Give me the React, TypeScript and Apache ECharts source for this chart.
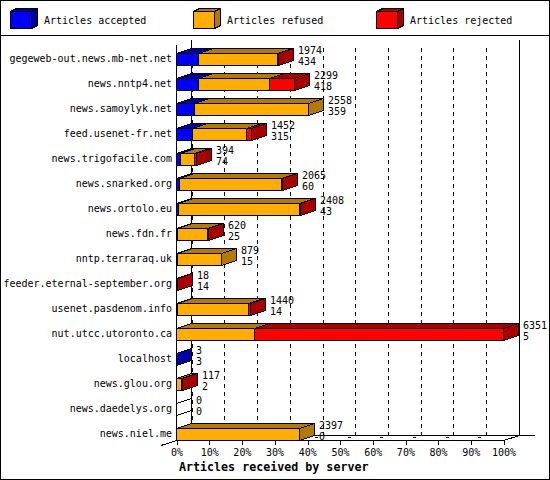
import React, { useEffect, useRef } from "react";
import * as echarts from "echarts";

const servers = [
  "gegeweb-out.news.mb-net.net", "news.nntp4.net", "news.samoylyk.net", "feed.usenet-fr.net",
  "news.trigofacile.com", "news.snarked.org", "news.ortolo.eu", "news.fdn.fr",
  "nntp.terraraq.uk", "feeder.eternal-september.org", "usenet.pasdenom.info", "nut.utcc.utoronto.ca",
  "localhost", "news.glou.org", "news.daedelys.org", "news.niel.me",
];
const totals = [1974, 2299, 2558, 1452, 394, 2065, 2408, 620, 879, 18, 1440, 6351, 3, 117, 0, 2397];
const accepted = [434, 418, 359, 315, 74, 60, 43, 25, 15, 14, 14, 5, 3, 2, 0, 0];
const refused = [1525, 1380, 2199, 1050, 270, 1985, 2350, 580, 864, 0, 1391, 1515, 0, 90, 0, 2397];
const rejected = [15, 501, 0, 87, 50, 20, 15, 15, 0, 4, 35, 4831, 0, 25, 0, 0];
const axisTicks = [10, 20, 30, 40, 50, 60, 70, 80, 90];
const legendNames = ["Articles accepted", "Articles refused", "Articles rejected"];
const faceColors = ["#0000ff", "#ffae00", "#ff0000"];
const shadeColors = ["#0000aa", "#b27a00", "#aa0000"];
const xAxisTitle = "Articles received by server";

const FONT = '"DejaVu Sans Mono", monospace';
const DX = 15;
const DY = -5;
const line = (x1: number, y1: number, x2: number, y2: number, extra: any = {}) => ({
  type: "line",
  shape: { x1, y1, x2, y2 },
  style: { stroke: "#000", lineWidth: 1, ...extra },
});
const poly = (points: number[][], fill: string) => ({
  type: "polygon",
  shape: { points },
  style: { fill, stroke: "#000", lineWidth: 1 },
});

const renderBar = (params: any, api: any) => {
  const i = params.dataIndex;
  const maxTotal = Math.max(...totals);
  const px = (v: number) => Math.round(api.coord([(v / maxTotal) * 100, i])[0]) - 0.5;
  const c = api.coord([0, i])[1];
  const top = c + 1;
  const bottom = c + 13;
  const segs = [accepted[i], refused[i], rejected[i]];
  const children: any[] = [];
  let sum = 0;
  if (totals[i] === 0) {
    const x = px(0);
    children.push(poly([[x, top], [x + DX, top + DY], [x + DX, bottom + DY], [x, bottom]], "none"));
  }
  segs.forEach((v, k) => {
    if (v <= 0) return;
    const a = px(sum);
    sum += v;
    const b = px(sum);
    children.push(poly([[a, top], [a + DX, top + DY], [b + DX, top + DY], [b, top]], shadeColors[k]));
    children.push(poly([[b, top], [b + DX, top + DY], [b + DX, bottom + DY], [b, bottom]], shadeColors[k]));
    children.push(poly([[a, top], [b, top], [b, bottom], [a, bottom]], faceColors[k]));
  });
  const tx = px(totals[i]) + DX + 4.5;
  [totals[i], accepted[i]].forEach((v, k) => {
    children.push({
      type: "text",
      style: {
        x: tx,
        y: c - 2.5 + k * 11,
        text: String(v),
        fill: "#000",
        font: `10px ${FONT}`,
        textAlign: "left",
        textVerticalAlign: "middle",
      },
    });
  });
  return { type: "group", children };
};

const renderFloor = (params: any, api: any) => {
  const x = Math.round(api.coord([axisTicks[params.dataIndex], 0])[0]) - 0.5;
  const y = params.coordSys.y + params.coordSys.height + 0.5;
  return line(x, y, x + DX, y + DY, { lineDash: [2, 6, 3, 20], lineWidth: 1 });
};

const legendBox = (x: number, k: number) => ({
  type: "group",
  children: [
    poly([[x, 11.5], [x + 6, 8.5], [x + 27, 8.5], [x + 21, 11.5]], shadeColors[k]),
    poly([[x + 21, 11.5], [x + 27, 8.5], [x + 27, 25.5], [x + 21, 28.5]], shadeColors[k]),
    poly([[x, 11.5], [x + 21, 11.5], [x + 21, 28.5], [x, 28.5]], faceColors[k]),
    {
      type: "text",
      style: {
        x: x + 33.5,
        y: 20,
        text: legendNames[k],
        fill: "#000",
        font: `10px ${FONT}`,
        textVerticalAlign: "middle",
      },
    },
  ],
});

export default function App() {
  const ref = useRef<HTMLDivElement>(null);
  useEffect(() => {
    const chart = echarts.init(ref.current!, undefined, { renderer: "svg" });
    chart.setOption({
      animation: false,
      backgroundColor: "#fff",
      title: {
        text: xAxisTitle,
        left: 179,
        top: 460,
        padding: 0,
        textStyle: { fontFamily: FONT, fontSize: 11.67, fontWeight: "bold", color: "#000", lineHeight: 13 },
      },
      grid: [
        { left: 177, top: 40, width: 327, height: 400, containLabel: false },
        { left: 192, top: 48, width: 327, height: 387, containLabel: false },
      ],
      xAxis: [
        {
          type: "value",
          gridIndex: 0,
          min: 0,
          max: 100,
          interval: 10,
          splitLine: { show: false },
          axisLine: { show: true, lineStyle: { color: "#000", width: 1 } },
          axisTick: { show: true, length: 5, lineStyle: { color: "#000", width: 1 } },
          axisLabel: {
            color: "#000",
            fontFamily: FONT,
            fontSize: 10,
            margin: 7,
            formatter: "{value}%",
            hideOverlap: false,
          },
        },
        {
          type: "value",
          gridIndex: 1,
          min: 0,
          max: 100,
          interval: 10,
          axisLine: { show: true, lineStyle: { color: "#000", width: 1 } },
          axisTick: { show: false },
          axisLabel: { show: false },
          splitLine: { show: true, lineStyle: { color: "#000", width: 1, type: [4, 4] } },
        },
      ],
      yAxis: [
        {
          type: "category",
          gridIndex: 0,
          inverse: true,
          data: servers,
          axisLine: { show: false },
          axisTick: { show: false },
          splitLine: { show: false },
          axisLabel: {
            color: "#000",
            fontFamily: FONT,
            fontSize: 10,
            margin: 5,
            interval: 0,
            verticalAlign: "top",
            lineHeight: 12,
          },
        },
        { type: "value", gridIndex: 1, show: false, min: 0, max: 1, splitLine: { show: false } },
      ],
      series: [
        {
          type: "custom",
          name: "floor",
          z: 1,
          silent: true,
          xAxisIndex: 0,
          yAxisIndex: 0,
          coordinateSystem: "cartesian2d",
          data: axisTicks.map((t) => [t, 0]),
          encode: { x: 0, y: 1 },
          renderItem: renderFloor,
        },
        {
          type: "custom",
          name: "articles",
          z: 3,
          silent: true,
          xAxisIndex: 0,
          yAxisIndex: 0,
          coordinateSystem: "cartesian2d",
          data: totals.map((t, i) => [t, i]),
          encode: { x: 0, y: 1 },
          clip: false,
          renderItem: renderBar,
        },
      ],
      graphic: [
        { type: "rect", z: -1, shape: { x: 0.5, y: 0.5, width: 549, height: 479 }, style: { fill: "none", stroke: "#000", lineWidth: 1 } },
        line(0.5, 35.5, 549.5, 35.5),
        legendBox(10.5, 0),
        legendBox(193.5, 1),
        legendBox(376.5, 2),
        line(176.5, 45, 176.5, 440.5),
        line(191.5, 40, 191.5, 435.5),
        line(519.5, 40, 519.5, 435.5),
        line(161, 445.5, 176.5, 440.5),
        line(503.5, 440.5, 519.5, 435.5),
        line(519.5, 435.5, 535, 435.5),
      ],
    });
    return () => chart.dispose();
  }, []);
  return (
    <>
      <style>{"html,body{margin:0;padding:0;background:#fff} svg path,svg line,svg polygon,svg rect{shape-rendering:crispEdges}"}</style>
      <div ref={ref} style={{ position: "absolute", left: 0, top: 0, width: 550, height: 480 }} />
    </>
  );
}
